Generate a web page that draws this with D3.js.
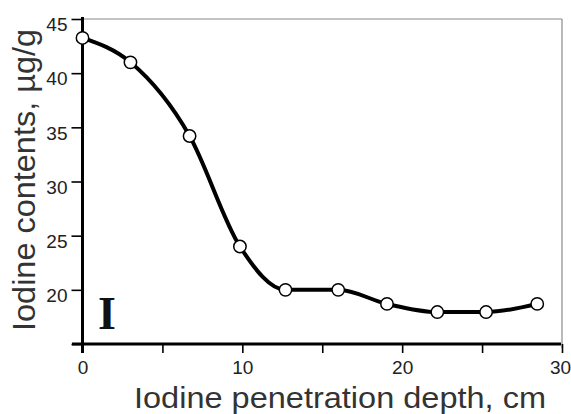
<!DOCTYPE html>
<html><head><meta charset="utf-8">
<script src="https://cdn.jsdelivr.net/npm/d3@7"></script>
<style>html,body{margin:0;padding:0;background:#fff;overflow:hidden}</style>
</head><body>
<svg id="c" width="571" height="414"></svg>
<script>
const depth = [0, 3, 6.7, 9.85, 12.7, 16, 19.05, 22.2, 25.25, 28.45];
const iodine = [43.25, 41.0, 34.2, 24.0, 20.0, 20.0, 18.7, 17.95, 17.95, 18.7];
const xTickLabels = [0, 10, 20, 30];
const xMinorTicks = [5, 15, 25];
const yTickLabels = [20, 25, 30, 35, 40, 45];
const yAllTicks = [15, 20, 25, 30, 35, 40, 45];
const xTitle = "Iodine penetration depth, cm";
const yTitle = "Iodine contents, µg/g";
const panelLabel = "I";

const svg = d3.select("#c");
const x = d3.scaleLinear().domain([0, 30]).range([82.5, 562]);
const y = d3.scaleLinear().domain([15, 45]).range([344, 19]);

// frame (top & right, gray)
svg.append("line").attr("x1", x(0)).attr("x2", x(30)).attr("y1", y(45)).attr("y2", y(45))
  .attr("stroke", "#8a8a8a").attr("stroke-width", 1.2);
svg.append("line").attr("x1", x(30)).attr("x2", x(30)).attr("y1", y(45)).attr("y2", 348)
  .attr("stroke", "#8a8a8a").attr("stroke-width", 1.2);

const tickFont = "'Liberation Sans Narrow', 'Liberation Sans', Arial, sans-serif";

// y axis
const yAxis = d3.axisLeft(y).tickValues(yAllTicks).tickSize(11).tickPadding(4)
  .tickFormat(d => yTickLabels.includes(d) ? String(d) : "");
const gy = svg.append("g").attr("transform", `translate(${x(0)},0)`).call(yAxis);
gy.select(".domain").remove();
gy.selectAll(".tick line").attr("stroke", "#000").attr("stroke-width", 1.6);
gy.selectAll(".tick text").attr("font-family", tickFont).attr("font-size", 19)
  .attr("fill", "#222").attr("dy", "0.62em");
svg.append("line").attr("x1", x(0)).attr("x2", x(0)).attr("y1", y(45) - 2).attr("y2", 353)
  .attr("stroke", "#000").attr("stroke-width", 3);

// x axis
const xAxis = d3.axisBottom(x).tickValues(xTickLabels.concat(xMinorTicks)).tickSize(9).tickPadding(8)
  .tickFormat(d => xTickLabels.includes(d) ? String(d) : "");
const gx = svg.append("g").attr("transform", `translate(0,${y(15)})`).call(xAxis);
gx.select(".domain").remove();
gx.selectAll(".tick line").attr("stroke", "#000").attr("stroke-width", 1.6);
gx.selectAll(".tick text").attr("font-family", tickFont).attr("font-size", 19).attr("fill", "#222")
  .attr("dx", d => d === 30 ? -2 : 0);
svg.append("line").attr("x1", 72).attr("x2", x(30) - 1).attr("y1", y(15)).attr("y2", y(15))
  .attr("stroke", "#000").attr("stroke-width", 3);

// curve
const pts = depth.map((d, i) => [d, iodine[i]]);
const line = d3.line().x(d => x(d[0])).y(d => y(d[1])).curve(d3.curveMonotoneX);
svg.append("path").datum(pts).attr("d", line).attr("fill", "none")
  .attr("stroke", "#000").attr("stroke-width", 4).attr("stroke-linejoin", "round");

svg.append("g").selectAll("circle").data(pts).join("circle")
  .attr("cx", d => x(d[0])).attr("cy", d => y(d[1])).attr("r", 6.2)
  .attr("fill", "#fff").attr("stroke", "#000").attr("stroke-width", 1.5);

// panel label
svg.append("text").attr("x", 98).attr("y", 329).text(panelLabel)
  .attr("font-family", "'Liberation Serif', 'Times New Roman', serif")
  .attr("font-weight", "bold").attr("font-size", 46).attr("fill", "#111");

// axis titles
svg.append("text").attr("x", 340).attr("y", 408).attr("text-anchor", "middle").text(xTitle)
  .attr("textLength", 412).attr("lengthAdjust", "spacingAndGlyphs")
  .attr("font-family", "'Liberation Sans', Arial, sans-serif").attr("font-size", 30).attr("fill", "#333");
svg.append("text").attr("transform", "translate(35,180) rotate(-90)").attr("text-anchor", "middle").text(yTitle)
  .attr("textLength", 302).attr("lengthAdjust", "spacingAndGlyphs")
  .attr("font-family", "'Liberation Sans', Arial, sans-serif").attr("font-size", 31).attr("fill", "#333");
</script>
</body></html>
